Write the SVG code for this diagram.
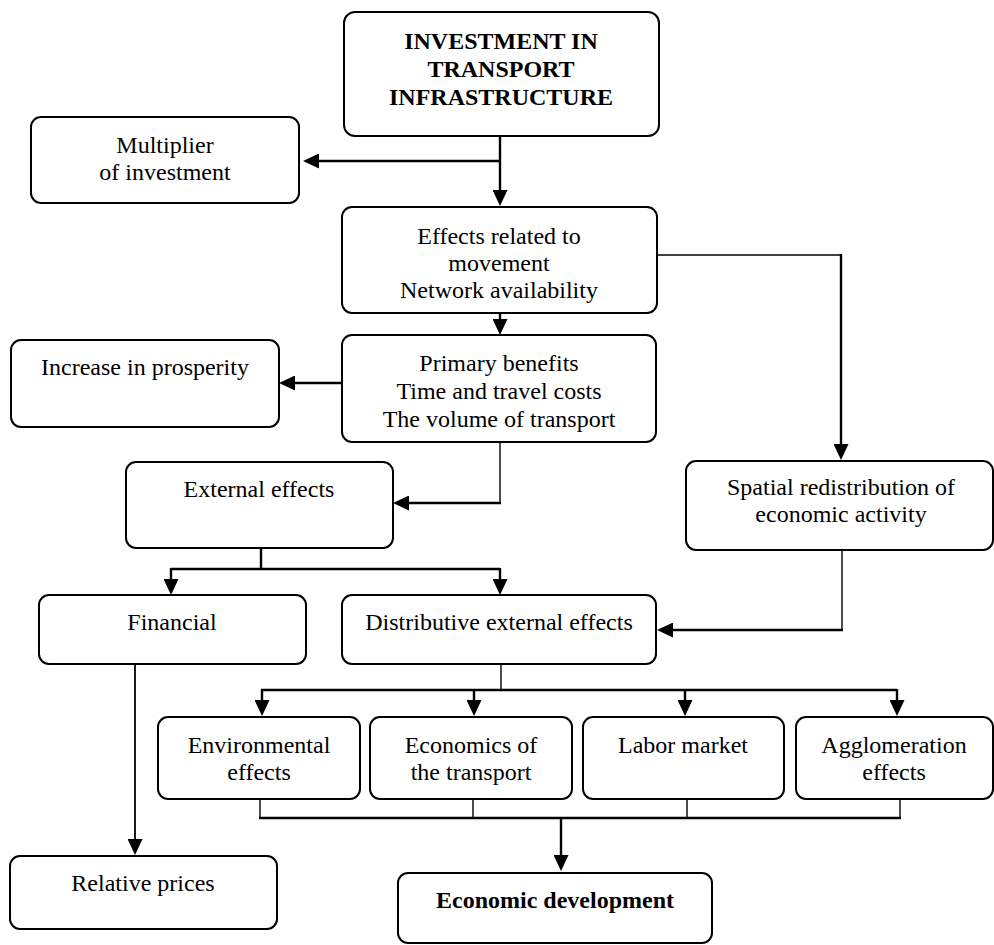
<svg xmlns="http://www.w3.org/2000/svg" width="994" height="945" viewBox="0 0 994 945">
<style>
.box{fill:#fff;stroke:#000;stroke-width:2}
text{font-family:"Liberation Serif","Times New Roman",serif;font-size:24px;fill:#000;text-anchor:middle}
.b{font-weight:bold}
.c{fill:none;stroke:#000}
.t{stroke-width:1.4}
.k{stroke-width:2.4}
</style>
<defs>
<marker id="ah" markerUnits="userSpaceOnUse" markerWidth="16" markerHeight="15" refX="8" refY="7.5" orient="auto">
<path d="M0,0 L16,7.5 L0,15 z" fill="#000"/>
</marker>
</defs>
<rect width="994" height="945" fill="#fff"/>
<g id="connectors">
<path class="c k" d="M500,136 V198" marker-end="url(#ah)"/>
<path class="c k" d="M500,161 H311" marker-end="url(#ah)"/>
<path class="c k" d="M500,313 V327" marker-end="url(#ah)"/>
<path class="c t" d="M657,255 H841"/>
<path class="c k" d="M841,254 V452" marker-end="url(#ah)"/>
<path class="c k" d="M342,383 H287" marker-end="url(#ah)"/>
<path class="c t" d="M500,442 V503"/>
<path class="c k" d="M501,503 H401" marker-end="url(#ah)"/>
<path class="c k" d="M261,548 V569"/>
<path class="c k" d="M171,569 H500"/>
<path class="c k" d="M171,568 V587" marker-end="url(#ah)"/>
<path class="c k" d="M500,568 V587" marker-end="url(#ah)"/>
<path class="c t" d="M842,550 V630"/>
<path class="c k" d="M843,630 H665" marker-end="url(#ah)"/>
<path class="c" stroke-width="1.8" d="M135,664 V847" marker-end="url(#ah)"/>
<path class="c t" d="M501,664 V690"/>
<path class="c k" d="M261,690 H897"/>
<path class="c k" d="M262,689 V708" marker-end="url(#ah)"/>
<path class="c k" d="M474,689 V708" marker-end="url(#ah)"/>
<path class="c k" d="M685,689 V708" marker-end="url(#ah)"/>
<path class="c k" d="M897,689 V708" marker-end="url(#ah)"/>
<path class="c t" d="M260,799 V818 M473,799 V818 M687,799 V818 M900,799 V818"/>
<path class="c k" d="M259,818 H901"/>
<path class="c k" d="M561,818 V863" marker-end="url(#ah)"/>
</g>
<g id="investment">
<rect class="box" x="344" y="12" width="315" height="124" rx="11"/>
<text class="b" x="501" y="49">INVESTMENT IN</text>
<text class="b" x="501" y="77">TRANSPORT</text>
<text class="b" x="501" y="105">INFRASTRUCTURE</text>
</g>
<g id="multiplier">
<rect class="box" x="31" y="117" width="268" height="86" rx="10"/>
<text x="165" y="153">Multiplier</text>
<text x="165" y="180">of investment</text>
</g>
<g id="effects">
<rect class="box" x="342" y="207" width="315" height="106" rx="10"/>
<text x="499" y="244">Effects related to</text>
<text x="499" y="271">movement</text>
<text x="499" y="298">Network availability</text>
</g>
<g id="primary">
<rect class="box" x="342" y="335" width="314" height="107" rx="10"/>
<text x="499" y="371">Primary benefits</text>
<text x="499" y="399">Time and travel costs</text>
<text x="499" y="427">The volume of transport</text>
</g>
<g id="prosperity">
<rect class="box" x="11" y="340" width="268" height="87" rx="10"/>
<text x="145" y="375">Increase in prosperity</text>
</g>
<g id="external">
<rect class="box" x="126" y="462" width="267" height="86" rx="10"/>
<text x="259" y="497">External effects</text>
</g>
<g id="spatial">
<rect class="box" x="686" y="461" width="307" height="89" rx="10"/>
<text x="841" y="495">Spatial redistribution of</text>
<text x="841" y="522">economic activity</text>
</g>
<g id="financial">
<rect class="box" x="39" y="595" width="267" height="69" rx="10"/>
<text x="172" y="630">Financial</text>
</g>
<g id="distributive">
<rect class="box" x="342" y="595" width="314" height="69" rx="10"/>
<text x="499" y="630">Distributive external effects</text>
</g>
<g id="environmental">
<rect class="box" x="158" y="717" width="202" height="82" rx="10"/>
<text x="259" y="753">Environmental</text>
<text x="259" y="780">effects</text>
</g>
<g id="economics">
<rect class="box" x="370" y="717" width="202" height="82" rx="10"/>
<text x="471" y="753">Economics of</text>
<text x="471" y="780">the transport</text>
</g>
<g id="labor">
<rect class="box" x="583" y="717" width="201" height="82" rx="10"/>
<text x="683" y="753">Labor market</text>
</g>
<g id="agglomeration">
<rect class="box" x="796" y="717" width="197" height="82" rx="10"/>
<text x="894" y="753">Agglomeration</text>
<text x="894" y="780">effects</text>
</g>
<g id="relative">
<rect class="box" x="10" y="856" width="267" height="73" rx="10"/>
<text x="143" y="891">Relative prices</text>
</g>
<g id="development">
<rect class="box" x="398" y="873" width="314" height="70" rx="10"/>
<text class="b" x="555" y="908">Economic development</text>
</g>
</svg>
